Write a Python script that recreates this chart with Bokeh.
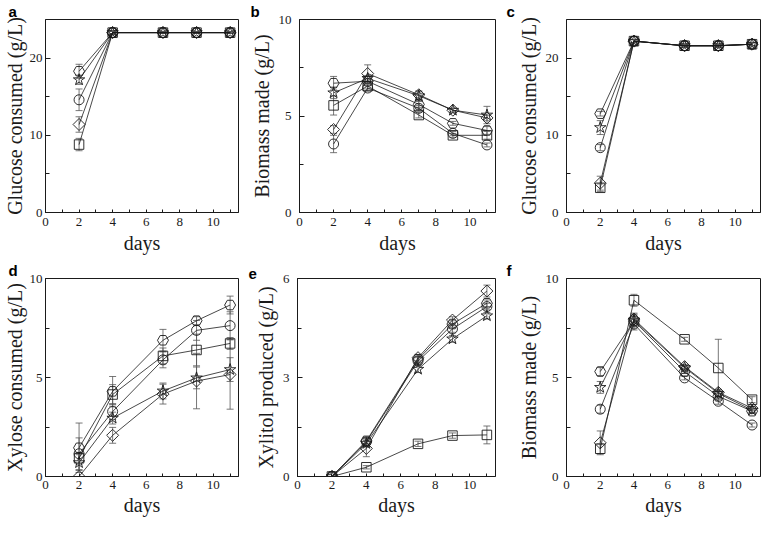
from bokeh.plotting import figure
from bokeh.layouts import row, column
from bokeh.models import Range1d, FixedTicker, Whisker, TeeHead, ColumnDataSource
from bokeh.embed import file_html
from bokeh.resources import INLINE

days = [2, 4, 7, 9, 11]
series_names = ["hexagon", "star", "circle", "diamond", "square"]
x_ticks = [0, 2, 4, 6, 8, 10]
x_minor = [1, 3, 5, 7, 9, 11]

# ---- panel a: Glucose consumed (g/L)
a_hexagon = [18.3, 23.3, 23.3, 23.3, 23.3]
a_star = [17.2, 23.3, 23.3, 23.3, 23.3]
a_circle = [14.6, 23.3, 23.3, 23.3, 23.3]
a_diamond = [11.4, 23.3, 23.3, 23.3, 23.3]
a_square = [8.8, 23.3, 23.3, 23.3, 23.3]
a_hexagon_err = [0.9, 0.2, 0.1, 0.1, 0.1]
a_star_err = [0.6, 0.2, 0.1, 0.1, 0.1]
a_circle_err = [1.4, 0.2, 0.1, 0.1, 0.1]
a_diamond_err = [1.0, 0.2, 0.1, 0.1, 0.1]
a_square_err = [0.8, 0.2, 0.1, 0.1, 0.1]

# ---- panel b: Biomass made (g/L)
b_hexagon = [6.7, 6.8, 5.6, 4.62, 4.25]
b_star = [6.2, 6.95, 6.05, 5.3, 5.05]
b_circle = [3.55, 6.45, 5.4, 4.1, 3.5]
b_diamond = [4.3, 7.2, 6.1, 5.3, 4.9]
b_square = [5.55, 6.55, 5.05, 4.0, 4.0]
b_hexagon_err = [0.35, 0.15, 0.15, 0.1, 0.2]
b_star_err = [0.3, 0.15, 0.25, 0.1, 0.45]
b_circle_err = [0.45, 0.15, 0.15, 0.1, 0.1]
b_diamond_err = [0.2, 0.45, 0.15, 0.1, 0.15]
b_square_err = [0.5, 0.15, 0.15, 0.1, 0.2]

# ---- panel c: Glucose consumed (g/L)
c_hexagon = [12.8, 22.2, 21.6, 21.6, 21.8]
c_star = [11.0, 22.2, 21.6, 21.6, 21.8]
c_circle = [8.4, 22.2, 21.6, 21.6, 21.8]
c_diamond = [3.8, 22.2, 21.6, 21.6, 21.8]
c_square = [3.2, 22.2, 21.6, 21.6, 21.8]
c_hexagon_err = [0.3, 0.2, 0.2, 0.2, 0.2]
c_star_err = [0.9, 0.2, 0.2, 0.2, 0.2]
c_circle_err = [0.4, 0.2, 0.2, 0.2, 0.2]
c_diamond_err = [0.9, 0.2, 0.2, 0.2, 0.2]
c_square_err = [0.5, 0.2, 0.2, 0.2, 0.2]

# ---- panel d: Xylose consumed (g/L)
d_hexagon = [1.45, 4.3, 6.88, 7.87, 8.66]
d_star = [0.7, 2.95, 4.32, 4.98, 5.4]
d_circle = [1.15, 3.28, 5.89, 7.38, 7.62]
d_diamond = [0.0, 2.08, 4.16, 4.82, 5.15]
d_square = [0.92, 4.14, 6.09, 6.39, 6.72]
d_hexagon_err = [1.25, 0.75, 0.55, 0.2, 0.45]
d_star_err = [0.4, 0.3, 0.4, 0.55, 0.6]
d_circle_err = [0.8, 0.4, 0.4, 0.5, 0.7]
d_diamond_err = [0.0, 0.4, 0.5, 1.4, 1.75]
d_square_err = [0.3, 0.5, 0.4, 0.8, 0.3]

# ---- panel e: Xylitol produced (g/L)
e_hexagon = [0.0, 1.08, 3.55, 4.62, 5.25]
e_star = [0.0, 1.0, 3.25, 4.17, 4.87]
e_circle = [0.0, 1.05, 3.5, 4.47, 5.15]
e_diamond = [0.0, 0.85, 3.6, 4.74, 5.62]
e_square = [0.0, 0.28, 0.99, 1.24, 1.26]
e_hexagon_err = [0.0, 0.1, 0.1, 0.1, 0.1]
e_star_err = [0.0, 0.1, 0.1, 0.1, 0.1]
e_circle_err = [0.0, 0.1, 0.1, 0.1, 0.1]
e_diamond_err = [0.0, 0.25, 0.1, 0.1, 0.18]
e_square_err = [0.0, 0.05, 0.08, 0.08, 0.27]

# ---- panel f: Biomass made (g/L)
f_hexagon = [5.3, 7.85, 5.3, 4.05, 3.3]
f_star = [4.5, 7.9, 5.5, 4.2, 3.35]
f_circle = [3.4, 7.7, 4.98, 3.8, 2.6]
f_diamond = [1.7, 7.95, 5.55, 4.25, 3.45]
f_square = [1.4, 8.9, 6.93, 5.48, 3.88]
f_hexagon_err = [0.2, 0.3, 0.1, 0.15, 0.1]
f_star_err = [0.3, 0.3, 0.1, 0.15, 0.1]
f_circle_err = [0.2, 0.3, 0.1, 0.15, 0.1]
f_diamond_err = [0.6, 0.3, 0.1, 0.15, 0.1]
f_square_err = [0.25, 0.3, 0.1, 1.45, 0.15]

panels = [
    ("a", "Glucose consumed (g/L)", 25, [0, 10, 20], [5, 15],
     [a_hexagon, a_star, a_circle, a_diamond, a_square],
     [a_hexagon_err, a_star_err, a_circle_err, a_diamond_err, a_square_err]),
    ("b", "Biomass made (g/L)", 10, [0, 5, 10], [2.5, 7.5],
     [b_hexagon, b_star, b_circle, b_diamond, b_square],
     [b_hexagon_err, b_star_err, b_circle_err, b_diamond_err, b_square_err]),
    ("c", "Glucose consumed (g/L)", 25, [0, 10, 20], [5, 15],
     [c_hexagon, c_star, c_circle, c_diamond, c_square],
     [c_hexagon_err, c_star_err, c_circle_err, c_diamond_err, c_square_err]),
    ("d", "Xylose consumed (g/L)", 10, [0, 5, 10], [2.5, 7.5],
     [d_hexagon, d_star, d_circle, d_diamond, d_square],
     [d_hexagon_err, d_star_err, d_circle_err, d_diamond_err, d_square_err]),
    ("e", "Xylitol produced (g/L)", 6, [0, 3, 6], [1.5, 4.5],
     [e_hexagon, e_star, e_circle, e_diamond, e_square],
     [e_hexagon_err, e_star_err, e_circle_err, e_diamond_err, e_square_err]),
    ("f", "Biomass made (g/L)", 10, [0, 5, 10], [2.5, 7.5],
     [f_hexagon, f_star, f_circle, f_diamond, f_square],
     [f_hexagon_err, f_star_err, f_circle_err, f_diamond_err, f_square_err]),
]

marker_style = {
    "hexagon": dict(marker="hex", size=11, angle=0.0),
    "star": dict(marker="star", size=12, angle=0.0),
    "circle": dict(marker="circle", size=10, angle=0.0),
    "diamond": dict(marker="square", size=8.5, angle=0.7854),
    "square": dict(marker="square", size=9.5, angle=0.0),
}

X_MAX = 11.5
# column geometry: (fig width, border left, border right, label standoffs)
col_geom = [(247, 38, 9, 3, 1), (258, 50, 10, 8, 3), (257, 61, 2, 8, 3)]
# row geometry: (fig height, border top, border bottom, x standoffs)
row_geom = [(259, 9, 47, 5, 3), (261, 19, 44, 4, 2)]

SERIF = "Liberation Serif"
INK = "#1a1a1a"


def make_panel(idx, spec):
    letter, ylabel, ymax, yt, ym, vals, errs = spec
    w, bl, br, lstand, astand = col_geom[idx % 3]
    h, bt, bb, xls, xas = row_geom[idx // 3]
    p = figure(width=w, height=h, output_backend="svg", toolbar_location=None,
               x_range=Range1d(0, X_MAX), y_range=Range1d(0, ymax),
               min_border_left=bl, min_border_right=br,
               min_border_top=bt, min_border_bottom=bb,
               title=letter)
    p.title.align = "left"
    p.title.offset = -(bl - 1)
    p.title.standoff = 0
    p.title.text_font = "Liberation Sans"
    p.title.text_font_style = "bold"
    p.title.text_font_size = "15px"
    p.title.text_color = "black"
    p.title.text_line_height = 0.8

    p.xgrid.visible = False
    p.ygrid.visible = False
    p.outline_line_color = INK
    p.outline_line_width = 1
    p.background_fill_color = "white"
    p.border_fill_color = "white"

    p.xaxis.ticker = FixedTicker(ticks=x_ticks, minor_ticks=x_minor)
    p.yaxis.ticker = FixedTicker(ticks=yt, minor_ticks=ym)
    for ax in (p.xaxis, p.yaxis):
        ax.axis_line_color = INK
        ax.major_tick_line_color = INK
        ax.minor_tick_line_color = INK
        ax.major_tick_out = 0
        ax.minor_tick_out = 0
        ax.major_label_text_font = SERIF
        ax.major_label_text_font_size = "13px"
        ax.major_label_text_color = INK
        ax.axis_label_text_font = SERIF
        ax.axis_label_text_font_style = "normal"
        ax.axis_label_text_font_size = "20px"
        ax.axis_label_text_color = INK
    p.xaxis.major_tick_in = 3
    p.xaxis.minor_tick_in = 3
    p.yaxis.major_tick_in = 5
    p.yaxis.minor_tick_in = 4
    p.xaxis.axis_label = "days"
    p.xaxis.major_label_standoff = xls
    p.xaxis.axis_label_standoff = xas
    p.yaxis.axis_label = ylabel
    p.yaxis.major_label_standoff = lstand
    p.yaxis.axis_label_standoff = astand

    for name, v, e in zip(series_names, vals, errs):
        p.line(days, v, line_color=INK, line_width=0.8)
    for name, v, e in zip(series_names, vals, errs):
        xs = [d for d, ee in zip(days, e) if ee > 0]
        up = [vv + ee for vv, ee in zip(v, e) if ee > 0]
        lo = [vv - ee for vv, ee in zip(v, e) if ee > 0]
        src = ColumnDataSource(dict(x=xs, upper=up, lower=lo))
        p.add_layout(Whisker(base="x", upper="upper", lower="lower", source=src,
                             dimension="height", line_color="#555555", line_width=0.8,
                             upper_head=TeeHead(size=7, line_color="#555555", line_width=0.8),
                             lower_head=TeeHead(size=7, line_color="#555555", line_width=0.8)))
    for name, v, e in zip(series_names, vals, errs):
        st = marker_style[name]
        p.scatter(days, v, marker=st["marker"], size=st["size"], angle=st["angle"],
                  fill_alpha=0, line_color=INK, line_width=0.9)
    return p


figs = [make_panel(i, s) for i, s in enumerate(panels)]
layout = column(row(*figs[:3]), row(*figs[3:]))

open("out.html", "w").write(file_html(layout, INLINE))
